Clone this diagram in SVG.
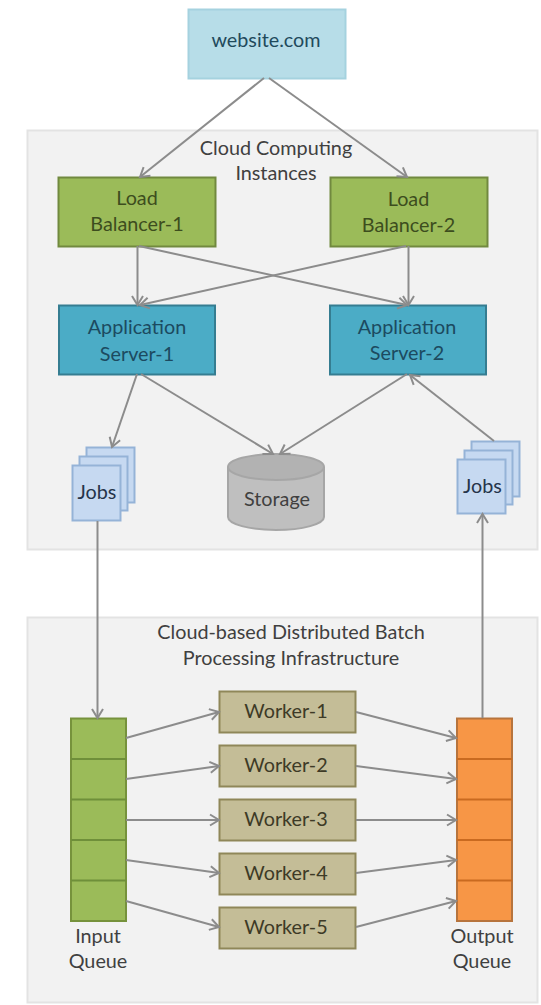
<svg xmlns="http://www.w3.org/2000/svg" width="541" height="1005" viewBox="0 0 541 1005">
<style>
text{font-family:"Lato","Open Sans","Liberation Sans",sans-serif;font-size:19.8px;text-anchor:middle;fill:#404040}
.panel{fill:#f2f2f2;stroke:#e3e3e3;stroke-width:2}
.lb{fill:#9bbb59;stroke:#71893f;stroke-width:2}
.lbt{fill:#3d4d1e}
.app{fill:#4bacc6;stroke:#357d91;stroke-width:2}
.appt{fill:#1c4a60}
.job{fill:#c6d9f1;stroke:#95b3d7;stroke-width:2}
.jobt{fill:#25344a}
.wk{fill:#c4bd97;stroke:#8f8759;stroke-width:2}
.wkt{fill:#3d3a26}
.c{fill:none;stroke:#8c8c8c;stroke-width:2;marker-end:url(#a)}
</style>
<defs>
<marker id="a" markerUnits="userSpaceOnUse" markerWidth="16" markerHeight="16" refX="11" refY="8" orient="auto">
<path d="M2 2.5L11 8L2 13.5" fill="none" stroke="#8c8c8c" stroke-width="2"/>
</marker>
</defs>
<g id="panel-cloud"><rect class="panel" x="27.5" y="130.5" width="510" height="419"/><text x="276" y="155">Cloud Computing</text><text x="276" y="180">Instances</text></g>
<g id="panel-batch"><rect class="panel" x="27.5" y="617.5" width="510" height="385"/><text x="291" y="639">Cloud-based Distributed Batch</text><text x="291" y="665">Processing Infrastructure</text></g>
<g id="website"><rect x="188.5" y="9.5" width="157" height="69" fill="#b7dde8" stroke="#a5d2df" stroke-width="2"/><text x="266" y="47" style="fill:#1f4a5c">website.com</text></g>
<g id="lb1"><rect class="lb" x="58.5" y="177.5" width="157" height="69"/><text class="lbt" x="137" y="205">Load</text><text class="lbt" x="137" y="231">Balancer-1</text></g>
<g id="lb2"><rect class="lb" x="330.5" y="177.5" width="157" height="69"/><text class="lbt" x="408.5" y="206">Load</text><text class="lbt" x="408.5" y="232">Balancer-2</text></g>
<g id="app1"><rect class="app" x="59" y="305.5" width="156" height="69"/><text class="appt" x="137" y="334">Application</text><text class="appt" x="137" y="361">Server-1</text></g>
<g id="app2"><rect class="app" x="330" y="305.5" width="156" height="69"/><text class="appt" x="407" y="334">Application</text><text class="appt" x="407" y="360">Server-2</text></g>
<g id="jobs-in"><rect class="job" x="86.5" y="447.5" width="48" height="55"/><rect class="job" x="79.5" y="456.5" width="48" height="54"/><rect class="job" x="72.5" y="465.5" width="48" height="55"/><text class="jobt" x="97" y="499">Jobs</text></g>
<g id="jobs-out"><rect class="job" x="471.5" y="441.5" width="48" height="55"/><rect class="job" x="464.5" y="450.5" width="48" height="54"/><rect class="job" x="457.5" y="459.5" width="48" height="54"/><text class="jobt" x="482.5" y="493">Jobs</text></g>
<g id="storage"><path d="M228 467V517C228 524 249 530 276 530S324 524 324 517V467" fill="#bfbfbf" stroke="#a6a6a6" stroke-width="2"/><ellipse cx="276" cy="467" rx="48" ry="13" fill="#b2b2b2" stroke="#a6a6a6" stroke-width="2"/><text x="277" y="506">Storage</text></g>
<g id="input-queue"><rect x="71" y="718.5" width="55" height="202.5" fill="#9bbb59" stroke="#76923c" stroke-width="2"/><path d="M71 759H126M71 799.5H126M71 840H126M71 880.5H126" stroke="#6f8f3a" stroke-width="2"/><text x="98" y="943">Input</text><text x="98" y="968">Queue</text></g>
<g id="output-queue"><rect x="457" y="718.5" width="55" height="202.5" fill="#f79646" stroke="#b7743d" stroke-width="2"/><path d="M457 759H512M457 799.5H512M457 840H512M457 880.5H512" stroke="#c96a20" stroke-width="2"/><text x="482" y="943">Output</text><text x="482" y="968">Queue</text></g>
<g id="worker1"><rect class="wk" x="219.5" y="691.5" width="136" height="41"/><text class="wkt" x="286" y="718">Worker-1</text></g>
<g id="worker2"><rect class="wk" x="219.5" y="745.5" width="136" height="41"/><text class="wkt" x="286" y="772">Worker-2</text></g>
<g id="worker3"><rect class="wk" x="219.5" y="799.5" width="136" height="41"/><text class="wkt" x="286" y="826">Worker-3</text></g>
<g id="worker4"><rect class="wk" x="219.5" y="853.5" width="136" height="41"/><text class="wkt" x="286" y="880">Worker-4</text></g>
<g id="worker5"><rect class="wk" x="219.5" y="907.5" width="136" height="41"/><text class="wkt" x="286" y="934">Worker-5</text></g>
<g id="connectors">
<path class="c" d="M264 78L140 177"/><path class="c" d="M269 78L407 177"/>
<path class="c" d="M137.5 246V305"/><path class="c" d="M139 246L407 305"/><path class="c" d="M406 246L140 305"/><path class="c" d="M408.5 246V305"/>
<path class="c" d="M137 374L112 447"/><path class="c" d="M141 374L273 454"/><path class="c" d="M407 374L280 454"/><path class="c" d="M494 441L410 375"/>
<path class="c" d="M97.5 521V718"/><path class="c" d="M482.5 718V514"/>
<path class="c" d="M126 738L219 712"/><path class="c" d="M126 779L219 766"/><path class="c" d="M126 820H219"/><path class="c" d="M126 860L219 873"/><path class="c" d="M126 901L219 927"/>
<path class="c" d="M356 712L456 738"/><path class="c" d="M356 766L456 779"/><path class="c" d="M356 820H456"/><path class="c" d="M356 873L456 860"/><path class="c" d="M356 927L456 901"/>
</g>
</svg>
